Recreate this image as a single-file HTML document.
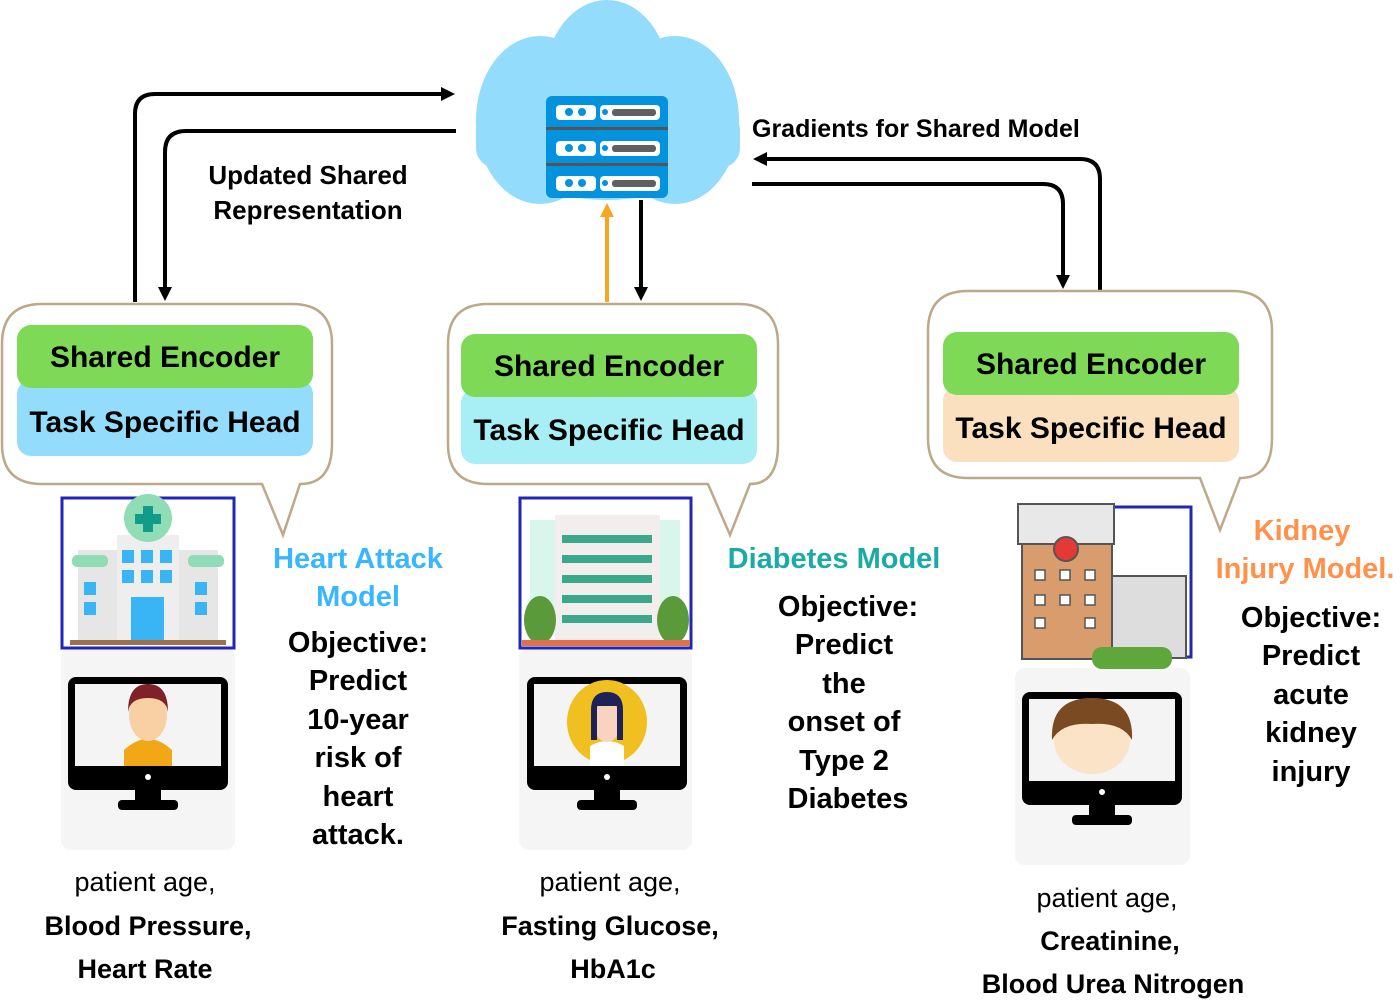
<!DOCTYPE html>
<html><head><meta charset="utf-8"><style>
body{margin:0;background:#fff;}
svg{display:block;font-family:"Liberation Sans",sans-serif;}
.b{font-weight:bold;}
</style></head><body>
<svg width="1400" height="1001" viewBox="0 0 1400 1001" xmlns="http://www.w3.org/2000/svg">
<defs>
<marker id="ah" markerWidth="14" markerHeight="14" refX="7" refY="7" orient="auto" markerUnits="userSpaceOnUse"><path d="M0,0 L14,7 L0,14 Z" fill="#000"/></marker>
<marker id="ao" markerWidth="14" markerHeight="14" refX="7" refY="7" orient="auto" markerUnits="userSpaceOnUse"><path d="M0,0 L14,7 L0,14 Z" fill="#f5a623"/></marker>
</defs>
<g fill="#93dcfb">
<ellipse cx="607" cy="80" rx="62" ry="80"/>
<ellipse cx="540" cy="120" rx="64" ry="84"/>
<ellipse cx="675" cy="120" rx="64" ry="84"/>
<rect x="476" y="110" width="264" height="58" rx="20"/>
<ellipse cx="607" cy="140" rx="110" ry="60"/>
</g>
<g>
<rect x="546" y="96" width="122" height="102" rx="6" fill="#0392dd"/>
<rect x="546" y="127" width="122" height="3" fill="#555"/>
<rect x="546" y="163" width="122" height="3" fill="#555"/>
<g fill="#fff">
<rect x="556" y="105" width="40" height="15" rx="4"/><rect x="600" y="105" width="60" height="15" rx="4"/>
<rect x="556" y="141" width="40" height="15" rx="4"/><rect x="600" y="141" width="60" height="15" rx="4"/>
<rect x="556" y="176" width="40" height="15" rx="4"/><rect x="600" y="176" width="60" height="15" rx="4"/>
</g>
<g fill="#0392dd"><circle cx="569" cy="112" r="4"/><circle cx="582" cy="112" r="4"/><circle cx="569" cy="148" r="4"/><circle cx="582" cy="148" r="4"/><circle cx="569" cy="183" r="4"/><circle cx="582" cy="183" r="4"/><circle cx="605" cy="112" r="3"/><circle cx="605" cy="148" r="3"/><circle cx="605" cy="183" r="3"/></g>
<g fill="#606060"><rect x="612" y="109" width="44" height="7" rx="3"/><rect x="612" y="145" width="44" height="7" rx="3"/><rect x="612" y="180" width="44" height="7" rx="3"/></g>
</g>
<g fill="none" stroke="#000" stroke-width="4">
<path d="M135,302 V114 Q135,94 155,94 H448" marker-end="url(#ah)"/>
<path d="M456,131 H186 Q165,131 165,152 V294" marker-end="url(#ah)"/>
<path d="M641,200 V294" marker-end="url(#ah)"/>
<path d="M1100,290 V179 Q1100,159 1080,159 H760" marker-end="url(#ah)"/>
<path d="M752,184 H1043 Q1063,184 1063,204 V282" marker-end="url(#ah)"/>
</g>
<path d="M607,302 V210" stroke="#f5a623" stroke-width="4" fill="none" marker-end="url(#ao)"/>
<text x="308" y="184" font-size="26" class="b" text-anchor="middle">Updated Shared</text>
<text x="308" y="219" font-size="26" class="b" text-anchor="middle">Representation</text>
<text x="752" y="137" font-size="25" class="b">Gradients for Shared Model</text>
<g fill="#fff" stroke="#bda98a" stroke-width="2.5">
<path d="M42,304 H292 Q332,304 332,344 V444 Q332,484 300,484 L283,535 L262,484 H42 Q2,484 2,444 V344 Q2,304 42,304 Z"/>
<path d="M488,304 H738 Q778,304 778,344 V444 Q778,484 750,484 L730,535 L708,484 H488 Q448,484 448,444 V344 Q448,304 488,304 Z"/>
<path d="M968,291 H1232 Q1272,291 1272,331 V438 Q1272,478 1240,478 L1220,530 L1200,478 H968 Q928,478 928,438 V331 Q928,291 968,291 Z"/>
</g>
<g>
<rect x="17" y="380" width="296" height="76" rx="14" fill="#93dcfb"/>
<rect x="17" y="325" width="296" height="63" rx="14" fill="#7ed957"/>
<rect x="461" y="389" width="296" height="75" rx="14" fill="#a8eff5"/>
<rect x="461" y="334" width="296" height="63" rx="14" fill="#7ed957"/>
<rect x="943" y="387" width="296" height="75" rx="14" fill="#fbe0c0"/>
<rect x="943" y="332" width="296" height="63" rx="14" fill="#7ed957"/>
</g>
<g class="b" font-size="30" text-anchor="middle">
<text x="165" y="367">Shared Encoder</text><text x="165" y="432">Task Specific Head</text>
<text x="609" y="376">Shared Encoder</text><text x="609" y="440">Task Specific Head</text>
<text x="1091" y="374">Shared Encoder</text><text x="1091" y="438">Task Specific Head</text>
</g>
<g fill="#f5f5f5">
<rect x="61" y="648" width="174" height="202" rx="10"/>
<rect x="519" y="648" width="173" height="202" rx="10"/>
<rect x="1015" y="668" width="175" height="197" rx="10"/>
</g>
<rect x="62" y="498" width="172" height="150" fill="#fff" stroke="#2027b5" stroke-width="3"/>
<rect x="78" y="550" width="140" height="90" fill="#e6e6e6"/>
<rect x="117" y="535" width="62" height="105" fill="#eee"/>
<rect x="72" y="555" width="36" height="12" rx="5" fill="#8fdcb5"/><rect x="188" y="555" width="36" height="12" rx="5" fill="#8fdcb5"/>
<circle cx="148" cy="518" r="24" fill="#8fdcb5"/><path d="M143,506h10v8h8v10h-8v8h-10v-8h-8v-10h8z" fill="#129b8a"/>
<g fill="#39b5f5"><rect x="122" y="550" width="12" height="13"/><rect x="141" y="550" width="12" height="13"/><rect x="160" y="550" width="12" height="13"/><rect x="122" y="570" width="12" height="13"/><rect x="141" y="570" width="12" height="13"/><rect x="160" y="570" width="12" height="13"/><rect x="84" y="582" width="12" height="13"/><rect x="84" y="602" width="12" height="13"/><rect x="195" y="582" width="12" height="13"/><rect x="195" y="602" width="12" height="13"/><rect x="131" y="597" width="33" height="43"/></g>
<rect x="70" y="640" width="156" height="5" fill="#a0704a"/>
<rect x="520" y="498" width="171" height="150" fill="#fff" stroke="#2027b5" stroke-width="3"/>
<rect x="530" y="520" width="150" height="110" fill="#d8f6ec"/>
<rect x="555" y="515" width="105" height="125" fill="#f3eeee"/>
<g fill="#3aa88a"><rect x="562" y="535" width="90" height="8"/><rect x="562" y="555" width="90" height="8"/><rect x="562" y="575" width="90" height="8"/><rect x="562" y="595" width="90" height="8"/><rect x="562" y="615" width="90" height="8"/></g>
<ellipse cx="540" cy="620" rx="16" ry="24" fill="#5a9a3a"/><ellipse cx="673" cy="620" rx="16" ry="24" fill="#5a9a3a"/>
<rect x="522" y="640" width="168" height="6" fill="#e07050"/>
<rect x="1100" y="507" width="91" height="150" fill="#fff" stroke="#2027b5" stroke-width="3"/>
<rect x="1018" y="504" width="96" height="40" fill="#e8e8e8" stroke="#555" stroke-width="2"/>
<rect x="1022" y="544" width="90" height="115" fill="#d99c6c" stroke="#555" stroke-width="2"/>
<rect x="1112" y="576" width="74" height="82" fill="#ddd" stroke="#555" stroke-width="2"/>
<circle cx="1066" cy="549" r="12" fill="#e53935" stroke="#555" stroke-width="2"/>
<g fill="#fff" stroke="#555" stroke-width="1.5"><rect x="1035" y="570" width="10" height="10"/><rect x="1060" y="570" width="10" height="10"/><rect x="1085" y="570" width="10" height="10"/><rect x="1035" y="595" width="10" height="10"/><rect x="1060" y="595" width="10" height="10"/><rect x="1085" y="595" width="10" height="10"/><rect x="1035" y="618" width="10" height="10"/><rect x="1085" y="618" width="10" height="10"/></g>
<rect x="1092" y="647" width="80" height="22" rx="10" fill="#5fa63b"/>
<g>
<rect x="68" y="677" width="160" height="113" rx="8" fill="#000"/><rect x="75" y="684" width="146" height="82" fill="#f4f4f4"/>
<circle cx="148" cy="777" r="3" fill="#fff"/><rect x="135" y="790" width="26" height="10" fill="#000"/><rect x="118" y="800" width="60" height="10" rx="4" fill="#000"/>
<path d="M124,750 q24,-22 48,0 v16 h-48z" fill="#f2a816"/><ellipse cx="148" cy="715" rx="19" ry="26" fill="#f8d0a4"/><path d="M128,712 q0,-28 20,-28 q20,0 20,28 q-2,-14 -20,-14 q-18,0 -20,14z" fill="#80212a"/>
<rect x="527" y="677" width="160" height="113" rx="8" fill="#000"/><rect x="534" y="684" width="146" height="82" fill="#f4f4f4"/>
<circle cx="607" cy="777" r="3" fill="#fff"/><rect x="594" y="790" width="26" height="10" fill="#000"/><rect x="577" y="800" width="60" height="10" rx="4" fill="#000"/>
<ellipse cx="607" cy="722" rx="40" ry="42" fill="#f0c020"/><path d="M590,746 q17,-10 34,0 v20 h-34z" fill="#fff"/><ellipse cx="607" cy="722" rx="14" ry="20" fill="#f8d4c0"/><path d="M591,740 v-30 q0,-18 16,-18 q16,0 16,18 v30 h-6 v-34 h-20 v34z" fill="#1f2258"/>
<rect x="1022" y="692" width="160" height="113" rx="8" fill="#000"/><rect x="1029" y="699" width="146" height="82" fill="#f4f4f4"/>
<circle cx="1102" cy="792" r="3" fill="#fff"/><rect x="1089" y="805" width="26" height="10" fill="#000"/><rect x="1072" y="815" width="60" height="10" rx="4" fill="#000"/>
<ellipse cx="1092" cy="740" rx="38" ry="34" fill="#fbe3c8"/><path d="M1052,740 q-2,-42 40,-42 q42,0 40,42 q-10,-18 -40,-16 q-30,-2 -40,16z" fill="#7a4a22"/>
</g>
<g class="b" text-anchor="middle">
<text x="358" y="568" font-size="29" fill="#38b6ff">Heart Attack</text>
<text x="358" y="606" font-size="29" fill="#38b6ff">Model</text>
<g font-size="29" fill="#000"><text x="358" y="652">Objective:</text><text x="358" y="690">Predict</text><text x="358" y="729">10-year</text><text x="358" y="767">risk of</text><text x="358" y="806">heart</text><text x="358" y="844">attack.</text></g>
<text x="834" y="568" font-size="29" fill="#1aaba6">Diabetes Model</text>
<g font-size="29" fill="#000"><text x="848" y="616">Objective:</text><text x="844" y="654">Predict</text><text x="844" y="693">the</text><text x="844" y="731">onset of</text><text x="844" y="770">Type 2</text><text x="848" y="808">Diabetes</text></g>
<text x="1302" y="540" font-size="29" fill="#ff914d">Kidney</text>
<text x="1305" y="578" font-size="29" fill="#ff914d">Injury Model.</text>
<g font-size="29" fill="#000"><text x="1311" y="627">Objective:</text><text x="1311" y="665">Predict</text><text x="1311" y="704">acute</text><text x="1311" y="742">kidney</text><text x="1311" y="781">injury</text></g>
</g>
<g text-anchor="middle" font-size="27">
<text x="145" y="891">patient age,</text><text x="148" y="935" class="b">Blood Pressure,</text><text x="145" y="978" class="b">Heart Rate</text>
<text x="610" y="891">patient age,</text><text x="610" y="935" class="b">Fasting Glucose,</text><text x="613" y="978" class="b">HbA1c</text>
<text x="1107" y="907">patient age,</text><text x="1110" y="950" class="b">Creatinine,</text><text x="1113" y="993" class="b">Blood Urea Nitrogen</text>
</g>
</svg>
</body></html>
